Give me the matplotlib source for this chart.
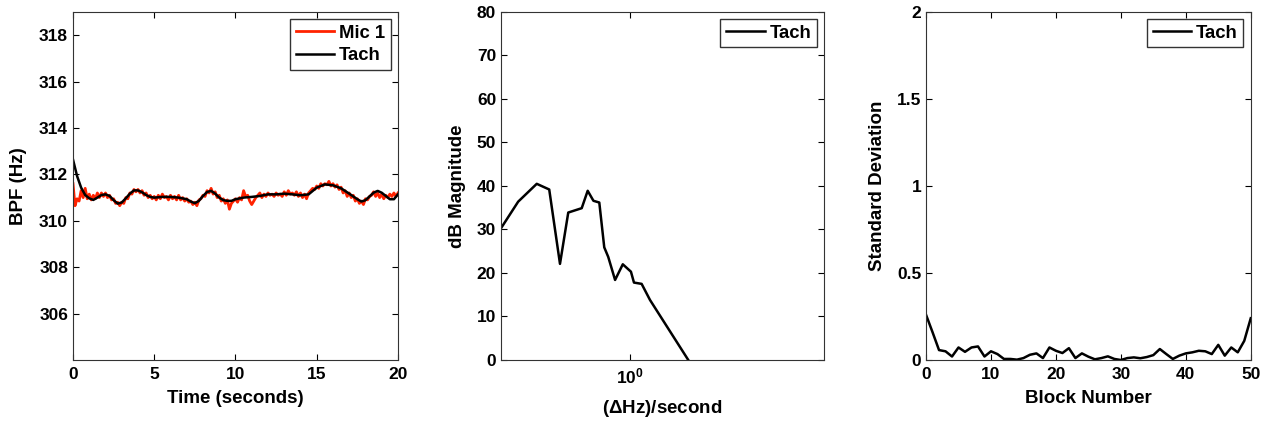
import matplotlib
matplotlib.use("Agg")
import matplotlib.pyplot as plt
import numpy as np
from matplotlib.ticker import LogLocator, NullLocator

# panel 1: BPF vs time
tach_t = [0, 0.25, 0.5, 0.75, 1.0, 1.25, 1.5, 1.75, 2.0, 2.25, 2.5, 2.75, 3.0, 3.25,
          3.5, 3.75, 4.0, 4.25, 4.5, 4.75, 5.0, 5.5, 6.0, 6.5, 7.0, 7.25, 7.5, 7.75,
          8.0, 8.25, 8.5, 8.75, 9.0, 9.25, 9.5, 9.75, 10.0, 10.5, 11.0, 11.5, 12.0,
          12.5, 13.0, 13.5, 14.0, 14.5, 15.0, 15.5, 16.0, 16.5, 17.0, 17.5, 17.75,
          18.0, 18.5, 18.75, 19.0, 19.5, 19.75, 20.0]
tach_bpf = [312.64, 311.93, 311.43, 311.11, 310.97, 310.90, 311.00, 311.11, 311.14,
            311.07, 310.89, 310.74, 310.79, 310.97, 311.17, 311.31, 311.31, 311.23,
            311.11, 311.03, 311.00, 311.03, 311.03, 311.00, 310.93, 310.83, 310.76,
            310.86, 311.07, 311.24, 311.29, 311.17, 311.00, 310.89, 310.86, 310.86,
            310.93, 311.00, 311.03, 311.07, 311.14, 311.14, 311.17, 311.14, 311.10,
            311.14, 311.43, 311.57, 311.53, 311.40, 311.17, 310.93, 310.83, 310.89,
            311.21, 311.29, 311.21, 310.93, 310.93, 311.14]

mic_t = np.arange(0, 20.0001, 0.125)
mic_bpf = [311.6, 310.65, 310.95, 310.85, 311.3, 311.0, 311.4, 310.95, 311.15, 310.9,
           311.1, 310.95, 311.2, 311.0, 311.2, 311.05, 311.2, 311.0, 311.1, 310.9,
           310.95, 310.75, 310.8, 310.65, 310.8, 310.75, 311.0, 310.95, 311.2, 311.15,
           311.35, 311.25, 311.35, 311.2, 311.3, 311.1, 311.2, 311.0, 311.1, 310.95,
           311.05, 310.9, 311.1, 310.95, 311.15, 311.0, 311.05, 310.9, 311.1, 310.95,
           311.05, 310.9, 311.1, 310.9, 311.0, 310.85, 310.95, 310.8, 310.85, 310.7,
           310.8, 310.65, 310.9, 310.95, 311.1, 311.05, 311.3, 311.2, 311.4, 311.15,
           311.25, 311.0, 311.1, 310.85, 310.95, 310.75, 310.9, 310.5, 310.75, 310.85,
           310.95, 310.8, 311.0, 310.9, 311.3, 311.05, 311.1, 310.85, 310.7, 310.85,
           311.0, 311.1, 311.2, 311.0, 311.15, 311.05, 311.2, 311.1, 311.15, 311.05,
           311.2, 311.1, 311.15, 311.05, 311.25, 311.1, 311.3, 311.15, 311.2, 311.1,
           311.25, 311.05, 311.2, 311.0, 311.15, 310.95, 311.2, 311.3, 311.4, 311.35,
           311.5, 311.4, 311.6, 311.5, 311.6, 311.55, 311.7, 311.5, 311.6, 311.45,
           311.55, 311.35, 311.45, 311.2, 311.3, 311.05, 311.2, 311.0, 311.1, 310.85,
           310.95, 310.75, 310.85, 310.7, 310.95, 310.9, 311.05, 311.1, 311.25, 311.05,
           311.2, 311.0, 311.15, 310.95, 311.1, 311.0, 311.15, 311.05, 311.2, 311.05,
           311.2]

# panel 2: spectrum of tach BPF
rate = [0.4, 0.452, 0.516, 0.564, 0.609, 0.646, 0.711, 0.742, 0.773, 0.806, 0.835,
        0.859, 0.902, 0.953, 1.01, 1.032, 1.09, 1.157, 1.52]
mag_db = [30.3, 36.4, 40.5, 39.2, 22.1, 33.9, 34.9, 38.9, 36.6, 36.2, 25.9, 23.7,
          18.4, 22.0, 20.3, 17.8, 17.5, 13.8, 0.0]

# panel 3: std deviation per block
block = np.arange(0, 51)
std_dev = [0.26, 0.16, 0.057, 0.05, 0.02, 0.072, 0.047, 0.072, 0.078, 0.02, 0.05,
           0.034, 0.006, 0.006, 0.002, 0.011, 0.03, 0.038, 0.011, 0.072, 0.053, 0.04,
           0.068, 0.011, 0.038, 0.019, 0.004, 0.011, 0.021, 0.006, 0.0, 0.011, 0.015,
           0.01, 0.017, 0.028, 0.063, 0.034, 0.006, 0.025, 0.038, 0.044, 0.053, 0.05,
           0.034, 0.087, 0.025, 0.072, 0.044, 0.11, 0.24]

plt.rcParams["font.family"] = ["Liberation Sans", "DejaVu Sans"]
plt.rcParams["font.weight"] = "bold"
plt.rcParams["axes.labelweight"] = "bold"
plt.rcParams["axes.linewidth"] = 0.8
plt.rcParams["axes.edgecolor"] = "#333333"
plt.rcParams["mathtext.default"] = "regular"

fig = plt.figure(figsize=(12.63, 4.21), dpi=100)
ax1 = fig.add_axes([0.0578, 0.1449, 0.2573, 0.8266])
ax2 = fig.add_axes([0.3967, 0.1449, 0.2557, 0.8266])
ax3 = fig.add_axes([0.7332, 0.1449, 0.2571, 0.8266])

for ax in (ax1, ax2, ax3):
    ax.tick_params(direction="in", top=True, right=True, length=4, width=0.8,
                   labelsize=12.5)
    ax.tick_params(axis="x", pad=5)

leg_kw = dict(loc="upper right", fancybox=False, edgecolor="#333333", framealpha=1,
              fontsize=13.3, handlelength=2.1, borderaxespad=0.4, borderpad=0.3,
              labelspacing=0.3, handletextpad=0.25)

ax1.plot(mic_t, mic_bpf, color="#ff2200", lw=2.0, label="Mic 1")
ax1.plot(tach_t, tach_bpf, color="black", lw=1.8, label="Tach")
ax1.set_xlim(0, 20)
ax1.set_ylim(304, 319)
ax1.set_xticks([0, 5, 10, 15, 20])
ax1.set_yticks([306, 308, 310, 312, 314, 316, 318])
ax1.set_xlabel("Time (seconds)", fontsize=13.5, labelpad=6)
ax1.set_ylabel("BPF (Hz)", fontsize=13.5, labelpad=9)
ax1.legend(**leg_kw)

ax2.plot(rate, mag_db, color="black", lw=1.8, label="Tach")
ax2.set_xscale("log")
ax2.set_xlim(0.4, 4)
ax2.set_ylim(0, 80)
ax2.xaxis.set_major_locator(LogLocator(base=10, numticks=5))
ax2.xaxis.set_minor_locator(NullLocator())
ax2.set_yticks(np.arange(0, 81, 10))
ax2.set_xlabel(r"($\Delta$Hz)/second", fontsize=13.5, labelpad=8)
ax2.set_ylabel("dB Magnitude", fontsize=13.5, labelpad=8)
ax2.legend(**leg_kw)

ax3.plot(block, std_dev, color="black", lw=1.8, label="Tach")
ax3.set_xlim(0, 50)
ax3.set_ylim(0, 2)
ax3.set_xticks([0, 10, 20, 30, 40, 50])
ax3.set_yticks([0, 0.5, 1, 1.5, 2])
ax3.set_yticklabels(["0", "0.5", "1", "1.5", "2"])
ax3.set_xlabel("Block Number", fontsize=13.5, labelpad=6)
ax3.set_ylabel("Standard Deviation", fontsize=13.5, labelpad=8)
ax3.legend(**leg_kw)

fig.savefig("out.png", dpi=100)
